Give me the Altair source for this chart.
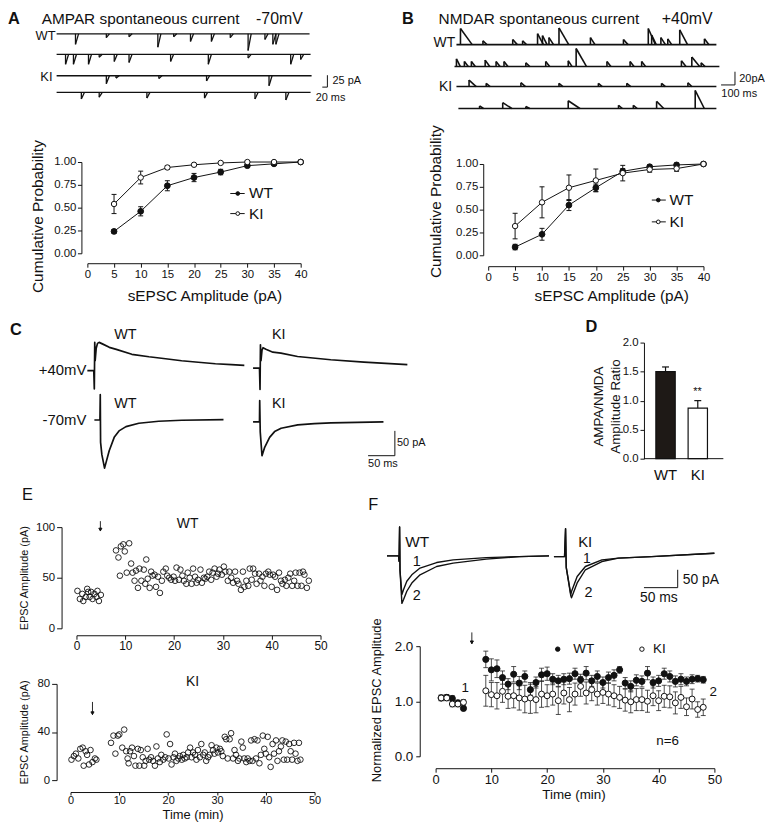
import altair as alt
import pandas as pd

FONT = "Liberation Sans"
INK = "#111111"

# ===================== DATA =====================
# ---- A / B : cumulative probability of sEPSC amplitude
amp_bins = [5, 10, 15, 20, 25, 30, 35, 40]
A_wt = [0.24, 0.46, 0.74, 0.83, 0.89, 0.96, 0.98, 1.00]
A_wt_err = [0.02, 0.05, 0.055, 0.045, 0.03, 0.015, 0.01, 0.0]
A_ki = [0.54, 0.83, 0.94, 0.97, 0.99, 1.00, 1.00, 1.00]
A_ki_err = [0.105, 0.07, 0.02, 0.01, 0.01, 0.01, 0.0, 0.0]
B_wt = [0.09, 0.23, 0.55, 0.74, 0.92, 0.97, 0.99, 1.00]
B_wt_err = [0.03, 0.065, 0.06, 0.04, 0.03, 0.02, 0.02, 0.0]
B_ki = [0.32, 0.58, 0.74, 0.82, 0.90, 0.94, 0.95, 1.00]
B_ki_err = [0.14, 0.17, 0.14, 0.125, 0.085, 0.03, 0.03, 0.0]

# ---- A : AMPAR spontaneous events (time ms, amplitude pA), four sweeps
A1_t = [74, 195, 284, 397, 459, 525, 607, 681, 751, 817, 848, 860]
A1_amp = [22, 8, 6, 28, 6, 16, 16, 8, 35, 12, 22, 22]
A2_t = [35, 66, 125, 167, 226, 284, 447, 595, 751, 918, 957]
A2_amp = [21, 21, 21, 6, 15, 17, 15, 21, 8, 21, 11]
A3_t = [195, 233, 401, 588, 833]
A3_amp = [17, 5, 6, 11, 21]
A4_t = [97, 167, 354, 580, 778, 899]
A4_amp = [14, 10, 12, 12, 14, 16]
A_sweep_start = [0, 0, 0, 0]
A_sweep_end = [992, 996, 1000, 996]

# ---- B : NMDAR spontaneous events (time ms, amplitude pA, decay ms)
B1_t = [31, 204, 433, 509, 624, 662, 712, 789, 1031, 1285, 1476, 1502, 1573, 1626, 1718, 1908]
B1_amp = [25, 6, 8, 6, 17, 14, 11, 26, 11, 8, 25, 15, 11, 9, 23, 9]
B1_dec = [90, 30, 35, 30, 45, 35, 35, 75, 35, 35, 55, 35, 35, 30, 60, 35]
B2_t = [0, 61, 115, 221, 305, 366, 534, 687, 860, 921, 1158, 1336, 1425, 1731, 1811, 1883]
B2_amp = [12, 8, 8, 10, 8, 8, 6, 8, 9, 28, 8, 8, 8, 9, 15, 6]
B2_dec = [30, 30, 30, 35, 30, 30, 30, 30, 30, 80, 30, 30, 30, 35, 60, 30]
B3_t = [97, 229, 496, 789, 1092, 1311, 1578, 1781]
B3_amp = [10, 5, 6, 5, 5, 5, 5, 6]
B3_dec = [55, 30, 35, 30, 30, 30, 30, 30]
B4_t = [178, 356, 534, 860, 1247, 1361, 1540, 1837]
B4_amp = [4, 9, 3, 12, 5, 5, 11, 28]
B4_dec = [30, 70, 30, 90, 30, 30, 55, 70]
B_sweep_start = [0, -15, 0, 15]
B_sweep_end = [2000, 2023, 2000, 2000]

# ---- C : evoked EPSCs (ms after stimulus, pA)
C_wt40_t = [-13, -1, 0, 0.8, 1.6, 3.5, 6, 9, 15, 28, 41, 70, 102, 133, 163, 194, 226, 256, 280]
C_wt40_i = [0, 0, -37, 57, 20, 45, 55, 57, 54, 47, 43, 33, 28, 24, 20, 17, 14, 12, 10.6]
C_ki40_t = [-13, -1, 0, 0.8, 1.8, 3.7, 5.6, 11, 24, 39, 70, 132, 194, 275]
C_ki40_i = [0, 0, -43, 47, 15, 36, 41, 38, 32, 30, 23.4, 16.8, 12, 6.8]
C_wt70_t = [-11, -0.6, 0, 0.6, 3, 8, 11, 16.7, 26, 35, 48, 72, 109, 152, 230]
C_wt70_i = [0, 0, 51, -45, -70, -97, -85, -62, -35, -22, -13.4, -6.6, -2.6, -0.6, 0.6]
C_ki70_t = [-12.4, -0.4, 0, 1, 4.3, 9.3, 18.5, 27.8, 40, 71, 102, 133, 231]
C_ki70_i = [0, 0, 43, -20, -68, -51, -31, -19.4, -12.6, -6, -3.4, -2, 0]

# ---- D : AMPA/NMDA amplitude ratio
D_groups = ["WT", "KI"]
D_ratio = [1.50, 0.87]
D_err = [0.08, 0.13]

# ---- E : EPSC amplitude time course (min, pA)
E_wt_t = [0.2, 0.7, 1.2, 1.4, 1.9, 2.2, 2.4, 2.7, 3.0, 3.3, 3.7, 4.1, 4.3, 4.6, 5.0,
          8.1, 8.6, 8.9, 9.1, 9.6, 9.9, 10.3, 10.8, 11.2, 11.5, 11.9, 12.2, 12.6, 12.9, 13.3,
          13.8, 14.1, 14.3, 14.6, 15.0, 15.3, 15.6, 16.0, 16.3, 16.7, 17.1, 17.5, 17.8, 18.3,
          18.6, 19.0, 19.4, 19.9, 20.2, 20.5, 21.0, 21.3, 21.7, 22.0, 22.5, 22.8, 23.2, 23.6,
          23.9, 24.3, 24.6, 24.9, 25.4, 25.7, 26.1, 26.4, 26.8, 27.2, 27.6, 27.9, 28.3, 28.7,
          29.0, 29.3, 29.8, 30.2, 30.5, 31.0, 31.3, 31.7, 32.1, 32.5, 32.9, 33.2, 33.7, 34.1,
          34.4, 34.8, 35.2, 35.5, 35.9, 36.2, 36.6, 36.9, 37.4, 37.7, 38.1, 38.5, 38.8, 39.3,
          39.6, 40.0, 40.3, 40.7, 41.1, 41.5, 41.9, 42.2, 42.7, 43.0, 43.4, 43.8, 44.2, 44.6,
          44.9, 45.3, 45.7, 46.1, 46.4, 46.7, 47.2, 47.6]
E_wt_v = [37, 29, 34, 27, 31, 39, 36, 31, 36, 29, 34, 31, 37, 27, 33,
          77, 70, 52, 81, 83, 76, 55, 84, 64, 55, 47, 57, 40, 59, 47,
          58, 44, 68, 49, 40, 56, 52, 53, 41, 51, 35, 47, 56, 59,
          52, 50, 48, 51, 47, 60, 48, 58, 52, 47, 44, 55, 50, 44,
          59, 51, 45, 48, 58, 45, 50, 49, 51, 56, 48, 55, 59, 51,
          54, 58, 53, 61, 56, 47, 56, 50, 45, 56, 47, 44, 38, 56,
          41, 47, 42, 59, 48, 59, 54, 44, 54, 47, 51, 42, 54, 56,
          53, 41, 53, 51, 38, 55, 47, 44, 48, 42, 50, 54, 42, 47,
          55, 42, 55, 42, 56, 53, 40, 47]
E_ki_t = [0.2, 0.7, 1.1, 1.6, 2.0, 2.5, 2.7, 3.1, 3.4, 3.8, 4.1, 4.5, 5.0, 5.3,
          8.3, 8.8, 9.2, 9.7, 10.0, 10.6, 11.0, 11.4, 11.7, 11.9, 12.2, 12.6, 13.0, 13.3,
          13.8, 14.1, 14.4, 14.8, 15.1, 15.4, 15.8, 16.1, 16.5, 16.9, 17.3, 17.6, 17.9, 18.3,
          18.6, 19.0, 19.4, 19.7, 20.1, 20.4, 20.7, 21.1, 21.4, 21.7, 22.1, 22.4, 22.8, 23.1,
          23.4, 23.8, 24.1, 24.5, 24.8, 25.1, 25.5, 25.8, 26.1, 26.5, 26.8, 27.2, 27.5, 27.8,
          28.2, 28.5, 28.9, 29.2, 29.5, 29.9, 30.2, 30.6, 30.9, 31.2, 31.6, 31.9, 32.2, 32.6,
          32.9, 33.3, 33.6, 33.9, 34.3, 34.6, 35.0, 35.3, 35.6, 36.0, 36.3, 36.7, 37.0, 37.3,
          37.7, 38.0, 38.3, 38.7, 39.0, 39.4, 39.7, 40.0, 40.4, 40.7, 41.0, 41.4, 41.7, 42.1,
          42.4, 42.7, 43.1, 43.4, 43.7, 44.1, 44.4, 44.8, 45.1, 45.4, 45.8, 46.1, 46.5, 46.8,
          47.1]
E_ki_v = [17, 20, 22, 18, 26, 27, 12, 24, 21, 13, 25, 15, 18, 17,
          31, 37, 22, 37, 38, 27, 42, 24, 18, 14, 24, 27, 20, 12,
          26, 12, 25, 19, 12, 16, 26, 17, 19, 16, 12, 28, 18, 15,
          21, 17, 19, 38, 18, 30, 13, 19, 22, 16, 18, 20, 17, 21,
          18, 19, 23, 27, 19, 23, 21, 17, 25, 19, 30, 21, 23, 16,
          19, 21, 29, 25, 22, 27, 23, 26, 24, 20, 36, 34, 18, 34,
          39, 18, 25, 21, 16, 18, 32, 27, 18, 15, 18, 16, 33, 16,
          34, 18, 33, 14, 21, 37, 26, 22, 36, 19, 11, 30, 22, 33,
          16, 24, 28, 33, 17, 32, 17, 30, 24, 17, 31, 22, 16, 31,
          17]

# ---- F : example EPSCs before (1) and after (2) LTP (ms, pA)
F_wt_t = [-18.7, -1.5, -0.8, 0, 0.6, 3.4, 5.9, 10.7, 18.1, 30.3, 54.9, 79.4, 128.4, 177.4, 221.5]
F_wt_1 = [0, 0, -15, 81, -40, -108, -94, -71, -53, -34, -18.6, -11, -4.7, -1.9, 0]
F_wt_2 = [0, 0, -15, 81, -40, -133, -122, -99, -76, -53, -29.7, -20.3, -9.2, -1.9, 0]
F_ki_t = [-17.2, -1.5, 0, 1, 7.8, 8.8, 17.2, 29.4, 53.9, 78.4, 127.5, 220.6]
F_ki_1 = [0, 0, 78, -30, -106, -98, -55.6, -27.8, -9.2, -4.4, 0, 9.4]
F_ki_2 = [0, 0, 78, -30, -110, -115.6, -73.9, -36.9, -13.9, -4.4, 0, 9.4]

# ---- F : normalized EPSC amplitude (mean, sem)
F_time = [1, 2, 3, 4, 5, 9, 10, 11, 12, 13, 14, 15, 16, 17, 18, 19, 20, 21, 22, 23, 24, 25,
          26, 27, 28, 29, 30, 31, 32, 33, 34, 35, 36, 37, 38, 39, 40, 41, 42, 43, 44, 45, 46,
          47, 48]
F_wt = [1.06, 1.07, 1.05, 0.97, 0.87,
        1.76, 1.57, 1.59, 1.43, 1.31, 1.49, 1.33, 1.45, 1.21, 1.34, 1.48, 1.50, 1.40, 1.37,
        1.40, 1.41, 1.50, 1.39, 1.51, 1.37, 1.45, 1.34, 1.43, 1.47, 1.57, 1.33, 1.27, 1.38,
        1.36, 1.51, 1.34, 1.37, 1.50, 1.45, 1.36, 1.40, 1.36, 1.40, 1.41, 1.39]
F_wt_err = [0.05, 0.05, 0.05, 0.05, 0.04,
            0.15, 0.20, 0.16, 0.12, 0.10, 0.14, 0.12, 0.10, 0.10, 0.10, 0.12, 0.12, 0.10, 0.10,
            0.10, 0.10, 0.10, 0.10, 0.12, 0.10, 0.10, 0.10, 0.10, 0.10, 0.06, 0.10, 0.10, 0.10,
            0.10, 0.12, 0.10, 0.10, 0.10, 0.10, 0.10, 0.10, 0.08, 0.08, 0.06, 0.06]
F_ki = [1.06, 1.06, 0.95, 0.95, 0.98,
        1.19, 1.12, 1.10, 1.18, 1.09, 1.10, 1.06, 1.04, 1.06, 1.03, 1.13, 1.10, 1.13, 1.01,
        1.15, 1.03, 1.13, 1.27, 1.15, 1.21, 1.13, 1.16, 1.13, 1.10, 1.07, 1.02, 0.99, 1.03,
        1.03, 1.00, 1.10, 1.01, 1.09, 1.08, 0.97, 1.07, 0.90, 1.04, 0.85, 0.89]
F_ki_err = [0.05, 0.05, 0.05, 0.05, 0.05,
            0.28, 0.22, 0.24, 0.20, 0.22, 0.22, 0.22, 0.25, 0.28, 0.24, 0.24, 0.20, 0.20, 0.25,
            0.20, 0.22, 0.20, 0.18, 0.20, 0.20, 0.20, 0.20, 0.20, 0.20, 0.20, 0.20, 0.20, 0.20,
            0.20, 0.20, 0.18, 0.18, 0.20, 0.20, 0.20, 0.20, 0.16, 0.18, 0.14, 0.15]

# ===================== LAYOUT (pixels / offsets) =====================
COL_W = [380, 370]
ROW_H = [130, 170, 180, 140, 160]
HEAD_Y = -5                              # header line of panels A and B (local px)
A_offsets = [0, -43, -88, -123]          # pA offsets of the four stacked sweeps
B_offsets = [0, -34, -65, -99]
A_decay = 12                             # drawn decay of an AMPA event (ms)
C_place = {"WT+40": (0, 0), "KI+40": (309.3, 5.2), "WT-70": (11.1, -99.4), "KI-70": (308.7, -103.4)}
F_place = {"WT": (0, 0), "KI": (246, -1.9)}


# ===================== HELPERS =====================
def one():
    return pd.DataFrame({"_": [0]})


def _xd(x, na, xtype="quantitative"):
    return alt.XDatum(datum=x, type=xtype, axis=None) if na else alt.XDatum(datum=x, type=xtype)


def _yd(y, na):
    return alt.YDatum(datum=y, type="quantitative", axis=None) if na else \
        alt.YDatum(datum=y, type="quantitative")


def ptext(s, x, y, size, align="left", weight="normal"):
    return alt.Chart(one()).mark_text(text=s, font=FONT, fontSize=size, fontWeight=weight,
                                      align=align, baseline="middle", color=INK, fill=INK).encode(
        x=alt.value(x), y=alt.value(y))


def dtext(s, x, y, size, align="left", weight="normal", na=True):
    return alt.Chart(one()).mark_text(text=s, font=FONT, fontSize=size, fontWeight=weight,
                                      align=align, baseline="middle", color=INK, fill=INK).encode(
        x=_xd(x, na), y=_yd(y, na))


def dseg(x, y, x2=None, y2=None, w=1.0, na=True):
    enc = {"x": _xd(x, na), "y": _yd(y, na)}
    if x2 is not None:
        enc["x2"] = alt.X2Datum(datum=x2)
    if y2 is not None:
        enc["y2"] = alt.Y2Datum(datum=y2)
    return alt.Chart(one()).mark_rule(color=INK, strokeWidth=w).encode(**enc)


def dpoint(x, y, filled, size=16, shape="circle", na=True):
    return alt.Chart(one()).mark_point(shape=shape, size=size, filled=True,
                                       fill=INK if filled else "white", stroke=INK,
                                       strokeWidth=1, opacity=1).encode(
        x=_xd(x, na), y=_yd(y, na))


def mk_axis(values, fmt, offset, lsize, tick=4, pad=2, title=None, tsize=12, tx=0, ty=0,
            ticks=True, lh=None, domain=True):
    kw = dict(offset=offset, labelFontSize=lsize, labelFont=FONT, labelColor=INK,
              tickColor=INK, domainColor=INK, domainWidth=1, tickWidth=1,
              tickSize=tick, labelPadding=pad, grid=False, ticks=ticks, domain=domain,
              labelFlush=False, labelOverlap=False, labelAngle=0)
    if values is not None:
        kw["values"] = values
    if fmt is not None:
        kw["format"] = fmt
    if title is None:
        kw["title"] = None
    else:
        kw.update(title=title, titleFont=FONT, titleFontSize=tsize, titleFontWeight="normal",
                  titleColor=INK, titleX=tx, titleY=ty, titleBaseline="middle",
                  titleAlign="center")
        if lh is not None:
            kw["titleLineHeight"] = lh
    return alt.Axis(**kw)


def sweep_frames(sweeps, offsets, starts, ends, sign):
    ev, base = [], []
    for k, (ts, amps, decs) in enumerate(sweeps):
        b = offsets[k]
        base.append({"start": starts[k], "end": ends[k], "base": b})
        for t, a, d in zip(ts, amps, decs):
            ev.append({"t": t, "t2": t + d, "base": b, "peak": b + sign * a})
    return pd.DataFrame(ev), pd.DataFrame(base)


def trace_panel_layers(ev, base, xs, ys, w):
    l1 = alt.Chart(base).mark_rule(color=INK, strokeWidth=w).encode(
        x=alt.X("start:Q", scale=xs, axis=None), x2="end:Q",
        y=alt.Y("base:Q", scale=ys, axis=None))
    l2 = alt.Chart(ev).mark_rule(color=INK, strokeWidth=w).encode(
        x=alt.X("t:Q", axis=None), y=alt.Y("base:Q", axis=None), y2="peak:Q")
    l3 = alt.Chart(ev).mark_rule(color=INK, strokeWidth=w).encode(
        x=alt.X("t:Q", axis=None), x2="t2:Q", y=alt.Y("peak:Q", axis=None), y2="base:Q")
    return [l1, l2, l3]


def curve_frame(defs, place):
    rows = []
    for name, curve, ts, cs in defs:
        dx, dy = place[name]
        for k, (t, c) in enumerate(zip(ts, cs)):
            rows.append({"curve": curve, "i": k, "x": t + dx, "y": c + dy})
    return pd.DataFrame(rows)


# ===================== PANEL A / B traces =====================
a_ev, a_base = sweep_frames(
    [(A1_t, A1_amp, [A_decay] * len(A1_t)), (A2_t, A2_amp, [A_decay] * len(A2_t)),
     (A3_t, A3_amp, [A_decay] * len(A3_t)), (A4_t, A4_amp, [A_decay] * len(A4_t))],
    A_offsets, A_sweep_start, A_sweep_end, -1)
xA = alt.Scale(domain=[0, 1000], range=[47, 304], nice=False, zero=False)
yA = alt.Scale(domain=[-200, 0], range=[105.8, 9.8], nice=False, zero=False)
A_tr = alt.layer(
    *trace_panel_layers(a_ev, a_base, xA, yA, 1.3),
    dtext("WT", -4, -5.6, 13, "right"), dtext("KI", -16, -91, 13, "right"),
    dseg(1062, -86.9, y2=-111.9), dseg(1042, -111.9, x2=1062),
    dtext("25 pA", 1082, -99.4, 11), dtext("20 ms", 1016, -134.8, 11),
    ptext("A", -2, HEAD_Y, 16.5, weight="bold"),
    ptext("AMPAR spontaneous current", 32, HEAD_Y, 15.5),
    ptext("-70mV", 248, HEAD_Y, 16),
).properties(width=COL_W[0], height=ROW_H[0])

b_ev, b_base = sweep_frames(
    [(B1_t, B1_amp, B1_dec), (B2_t, B2_amp, B2_dec), (B3_t, B3_amp, B3_dec), (B4_t, B4_amp, B4_dec)],
    B_offsets, B_sweep_start, B_sweep_end, 1)
xB = alt.Scale(domain=[0, 2000], range=[70, 332], nice=False, zero=False)
yB = alt.Scale(domain=[-150, 50], range=[118.2, -11.8], nice=False, zero=False)
B_tr = alt.layer(
    *trace_panel_layers(b_ev, b_base, xB, yB, 1.6),
    dtext("WT", -10, 2.6, 14, "right"), dtext("KI", -34, -65, 14, "right"),
    dseg(2143, -42, y2=-62.5), dseg(2036, -62.5, x2=2143),
    dtext("20pA", 2176, -52.8, 11), dtext("100 ms", 2038, -75.8, 11),
    ptext("B", 15, HEAD_Y, 16.5, weight="bold"),
    ptext("NMDAR spontaneous current", 52, HEAD_Y, 15.5),
    ptext("+40mV", 277, HEAD_Y, 16),
).properties(width=COL_W[1], height=ROW_H[0])


# ===================== PANEL A / B cumulative =====================
def cum_panel(wt, wt_err, ki, ki_err, xr, yr, yoff, xoff, yt, xt, leg):
    xs = alt.Scale(domain=[0, 40], range=xr, nice=False, zero=False)
    ys = alt.Scale(domain=[0, 1], range=yr, nice=False, zero=False)
    xax = mk_axis([0, 5, 10, 15, 20, 25, 30, 35, 40], "d", xoff, 11.5, tick=4, pad=1,
                  title="sEPSC Amplitude (pA)", tsize=15.5, tx=xt[0], ty=xt[1])
    yax = mk_axis([0, 0.25, 0.5, 0.75, 1.0], ".2f", yoff, 11.5, tick=4, pad=1.5,
                  title="Cumulative Probability", tsize=15.5, tx=yt[0], ty=yt[1])

    def frame(v, e):
        return pd.DataFrame({"amp": amp_bins, "p": v,
                             "lo": [a - b for a, b in zip(v, e)],
                             "hi": [a + b for a, b in zip(v, e)]})

    w, k = frame(wt, wt_err), frame(ki, ki_err)
    layers = [
        alt.Chart(w).mark_line(color=INK, strokeWidth=1).encode(
            x=alt.X("amp:Q", scale=xs, axis=xax), y=alt.Y("p:Q", scale=ys, axis=yax)),
        alt.Chart(k).mark_line(color=INK, strokeWidth=1).encode(x="amp:Q", y="p:Q"),
    ]
    for df in (w, k):
        layers.append(alt.Chart(df).mark_rule(color=INK, strokeWidth=1).encode(
            x="amp:Q", y="lo:Q", y2="hi:Q"))
        for f in ("lo", "hi"):
            layers.append(alt.Chart(df).mark_rule(color=INK, strokeWidth=1, xOffset=-2.5,
                                                  x2Offset=2.5).encode(
                x="amp:Q", x2="amp:Q", y=f + ":Q"))
    layers.append(alt.Chart(w).mark_point(shape="circle", size=34, filled=True, fill=INK,
                                          stroke=INK, strokeWidth=1, opacity=1).encode(
        x="amp:Q", y="p:Q"))
    layers.append(alt.Chart(k).mark_point(shape="circle", size=30, filled=True, fill="white",
                                          stroke=INK, strokeWidth=1, opacity=1).encode(
        x="amp:Q", y="p:Q"))
    x1, x2, xp, xtx, ywt, yki = leg
    layers += [dseg(x1, ywt, x2=x2, na=False), dpoint(xp, ywt, True, 14, na=False),
               dtext("WT", xtx, ywt, 15.5, na=False),
               dseg(x1, yki, x2=x2, na=False), dpoint(xp, yki, False, 14, na=False),
               dtext("KI", xtx, yki, 15.5, na=False)]
    return layers


A_cum = alt.layer(*cum_panel(A_wt, A_wt_err, A_ki, A_ki_err, [78, 293], [101, 9], -72, -59,
                             (-44.5, 63.5), (196, 33), (26.8, 29.5, 28.2, 30.3, 0.655, 0.435))
                  ).properties(width=COL_W[0], height=ROW_H[1])
B_cum = alt.layer(*cum_panel(B_wt, B_wt_err, B_ki, B_ki_err, [102, 319], [103, 11], -97, -56,
                             (-48, 48.5), (226, 30), (30.4, 33.0, 31.6, 33.7, 0.605, 0.366))
                  ).properties(width=COL_W[1], height=ROW_H[1])

# ===================== PANEL C =====================
c_df = curve_frame([("WT+40", "a", C_wt40_t, C_wt40_i), ("KI+40", "b", C_ki40_t, C_ki40_i),
                    ("WT-70", "c", C_wt70_t, C_wt70_i), ("KI-70", "d", C_ki70_t, C_ki70_i)],
                   C_place)
xC = alt.Scale(domain=[-150, 600], range=[4, 409], nice=False, zero=False)
yC = alt.Scale(domain=[-250, 100], range=[174.3, -0.7], nice=False, zero=False)
C_pan = alt.layer(
    alt.Chart(c_df).mark_line(color=INK, strokeWidth=1.7, strokeJoin="round").encode(
        x=alt.X("x:Q", scale=xC, axis=None), y=alt.Y("y:Q", scale=yC, axis=None),
        detail="curve:N", order="i:Q"),
    ptext("C", 0, 8, 16.5, weight="bold"),
    ptext("WT", 105, 13, 14.5), ptext("KI", 264, 13, 14.5),
    ptext("WT", 105, 83, 14.5), ptext("KI", 264, 83, 14.5),
    ptext("+40mV", 77, 49, 15, "right"), ptext("-70mV", 77, 99, 15, "right"),
    dseg(561, -121.4, y2=-171.4), dseg(511, -171.4, x2=561),
    dtext("50 pA", 565, -145.4, 11), dtext("50 ms", 511, -187.4, 11),
).properties(width=COL_W[0], height=ROW_H[2])

# ===================== PANEL D =====================
d_df = pd.DataFrame({"g": D_groups, "v": D_ratio,
                     "hi": [a + b for a, b in zip(D_ratio, D_err)]})
xD = alt.Scale(domain=D_groups, range=[271, 323], paddingInner=0.4, paddingOuter=0)
yD = alt.Scale(domain=[0, 2], range=[138, 21], nice=False, zero=False)
D_pan = alt.layer(
    alt.Chart(d_df).mark_rule(color=INK, strokeWidth=1.2).encode(
        x=alt.X("g:N", scale=xD, sort=D_groups,
                axis=mk_axis(None, None, -42, 15, tick=0, pad=9, ticks=False, domain=False)),
        y=alt.Y("v:Q", scale=yD,
                axis=mk_axis([0, 0.5, 1, 1.5, 2], ".1f", -259, 11.5, tick=4, pad=2,
                             title=["AMPA/NMDA", "Amplitude Ratio"], tsize=13.5,
                             tx=-45.5, ty=85, lh=17)),
        y2="hi:Q"),
    alt.Chart(d_df).mark_tick(orient="horizontal", size=7, thickness=1.2, color=INK,
                              opacity=1).encode(
        x=alt.X("g:N", sort=D_groups), y="hi:Q"),
    alt.Chart(d_df).mark_bar(stroke=INK, strokeWidth=1.2).encode(
        x=alt.X("g:N", sort=D_groups), y="v:Q",
        fill=alt.Fill("g:N", scale=alt.Scale(domain=D_groups, range=["#1e1916", "#ffffff"]),
                      legend=None)),
    # x axis line of the bar chart (spans the whole axis, wider than the bars)
    alt.Chart(one()).mark_rule(color=INK, strokeWidth=1).encode(
        x=alt.value(259), x2=alt.value(339), y=alt.YDatum(datum=0, type="quantitative")),
    ptext("**", 313, 71, 11, "center"),
    ptext("D", 200, 5, 16.5, weight="bold"),
).properties(width=COL_W[1], height=ROW_H[2])


# ===================== PANEL E =====================
def e_panel(t, v, xr, yr, ymax, yvals, yoff, xoff, ytitle_xy, label, label_xy, arrow,
            xtitle=None, xtitle_xy=(0, 0), letter=None, xtick=4, xpad=1, xlsize=12):
    df = pd.DataFrame({"t": t, "v": v})
    xs = alt.Scale(domain=[0, 50], range=xr, nice=False, zero=False)
    ys = alt.Scale(domain=[0, ymax], range=yr, nice=False, zero=False)
    xax = mk_axis(list(range(0, 55, 5)), "d", xoff, xlsize, tick=xtick, pad=xpad,
                  title=xtitle, tsize=13, tx=xtitle_xy[0], ty=xtitle_xy[1])
    yax = mk_axis(yvals, "d", yoff, 11.5, tick=5, pad=2, title="EPSC Amplitude (pA)",
                  tsize=11, tx=ytitle_xy[0], ty=ytitle_xy[1])
    layers = [
        alt.Chart(df).mark_point(shape="circle", size=32, filled=False, stroke=INK,
                                 strokeWidth=0.9, opacity=1).encode(
            x=alt.X("t:Q", scale=xs, axis=xax), y=alt.Y("v:Q", scale=ys, axis=yax)),
        ptext(label, label_xy[0], label_xy[1], 14, "center"),
        dseg(arrow[0], arrow[1], y2=arrow[2], w=0.9, na=False),
        dpoint(arrow[0], arrow[3], True, 10, "triangle-down", na=False),
    ]
    if letter:
        layers.append(ptext(letter, 12, -5, 16.5))
    return layers


E_wt = alt.layer(*e_panel(E_wt_t, E_wt_v, [67, 313], [129, 27], 100, [0, 25, 50, 75, 100],
                          -52, -4, (-37, 78), "WT", (179, 24), (4.9, 105.9, 96.1, 97.6),
                          letter="E")
                 ).properties(width=COL_W[0], height=ROW_H[3])
E_ki = alt.layer(*e_panel(E_ki_t, E_ki_v, [61, 307], [142, 45], 80, [0, 20, 40, 60, 80],
                          -47, -6, (-32, 93.5), "KI", (184, 43), (4.5, 65, 54.4, 55.6),
                          xtitle="Time (min)", xtitle_xy=(184, 23), xtick=3, xpad=0,
                          xlsize=11)
                 ).properties(width=COL_W[0], height=ROW_H[4])

# ===================== PANEL F traces =====================
f_df = curve_frame([("WT", "WT1", F_wt_t, F_wt_1), ("WT", "WT2", F_wt_t, F_wt_2),
                    ("KI", "KI1", F_ki_t, F_ki_1), ("KI", "KI2", F_ki_t, F_ki_2)], F_place)
xF = alt.Scale(domain=[-20, 500], range=[-0.9, 352.7], nice=False, zero=False)
yF = alt.Scale(domain=[-250, 100], range=[146, 20], nice=False, zero=False)
F_tr = alt.layer(
    alt.Chart(f_df).mark_line(color=INK, strokeWidth=1.4, strokeJoin="round").encode(
        x=alt.X("x:Q", scale=xF, axis=None), y=alt.Y("y:Q", scale=yF, axis=None),
        detail="curve:N", order="i:Q"),
    dtext("WT", 8.2, 39.7, 15.5), dtext("1", 25.4, -15.8, 14.5, "center"),
    dtext("2", 25.4, -111, 14.5, "center"),
    dtext("KI", 264.7, 40, 15), dtext("1", 277.5, -9, 14, "center"),
    dtext("2", 279.9, -103.6, 14.5, "center"),
    dseg(412.2, -38.9, y2=-88.9), dseg(362.2, -88.9, x2=412.2),
    dtext("50 pA", 419.6, -66.7, 14), dtext("50 ms", 356.3, -118, 14),
    ptext("F", -19, 5, 16.5),
).properties(width=COL_W[1], height=ROW_H[3])

# ===================== PANEL F normalized =====================
fw = pd.DataFrame({"t": F_time, "v": F_wt, "lo": [a - b for a, b in zip(F_wt, F_wt_err)],
                   "hi": [a + b for a, b in zip(F_wt, F_wt_err)]})
fk = pd.DataFrame({"t": F_time, "v": F_ki, "lo": [a - b for a, b in zip(F_ki, F_ki_err)],
                   "hi": [a + b for a, b in zip(F_ki, F_ki_err)]})
xN = alt.Scale(domain=[0, 50], range=[49, 330], nice=False, zero=False)
yN = alt.Scale(domain=[0, 2], range=[118, 7], nice=False, zero=False)
n_layers = [
    alt.Chart(fw).mark_rule(color="#222222", strokeWidth=0.8).encode(
        x=alt.X("t:Q", scale=xN, axis=mk_axis(list(range(0, 55, 5)), "d", -30, 13, tick=4,
                                              pad=1, title="Time (min)", tsize=13.5,
                                              tx=188, ty=27)),
        y=alt.Y("lo:Q", scale=yN, axis=mk_axis([0, 0.5, 1, 1.5, 2], ".1f", -33, 13.5, tick=4,
                                               pad=3, title="Normalized EPSC Amplitude",
                                               tsize=13, tx=-44, ty=61)),
        y2="hi:Q"),
    alt.Chart(fk).mark_rule(color="#222222", strokeWidth=0.8).encode(
        x="t:Q", y="lo:Q", y2="hi:Q"),
]
for df in (fw, fk):
    for f in ("lo", "hi"):
        n_layers.append(alt.Chart(df).mark_rule(color="#222222", strokeWidth=0.8, xOffset=-2.5,
                                                x2Offset=2.5).encode(
            x="t:Q", x2="t:Q", y=f + ":Q"))
n_layers.append(alt.Chart(fw).mark_point(shape="circle", size=38, filled=True, fill=INK,
                                         stroke=INK, strokeWidth=1, opacity=1).encode(
    x="t:Q", y="v:Q"))
n_layers.append(alt.Chart(fk).mark_point(shape="circle", size=36, filled=True, fill="white",
                                         stroke=INK, strokeWidth=1, opacity=1).encode(
    x="t:Q", y="v:Q"))
n_layers += [
    dpoint(21.9, 1.946, True, 20, na=False), dtext("WT", 24.7, 1.946, 13.5, na=False),
    dpoint(37.0, 1.946, False, 20, na=False), dtext("KI", 39.0, 1.946, 13.5, na=False),
    dseg(6.5, 2.25, y2=2.04, w=0.9, na=False),
    dpoint(6.5, 2.07, True, 10, "triangle-down", na=False),
    dtext("1", 5.3, 1.24, 13.5, "center", na=False),
    dtext("2", 49.8, 1.17, 13.5, "center", na=False),
    dtext("n=6", 41.6, 0.27, 13.5, "center", na=False),
]
F_norm = alt.layer(*n_layers).properties(width=COL_W[1], height=ROW_H[4])

# ===================== ASSEMBLE =====================
chart = alt.concat(
    A_tr, B_tr, A_cum, B_cum, C_pan, D_pan, E_wt, F_tr, E_ki, F_norm,
    columns=2, spacing=0, bounds="flush", align="each", padding=0,
).configure_view(stroke=None)

chart.save("out.html", embed_options={"renderer": "svg", "actions": False})
